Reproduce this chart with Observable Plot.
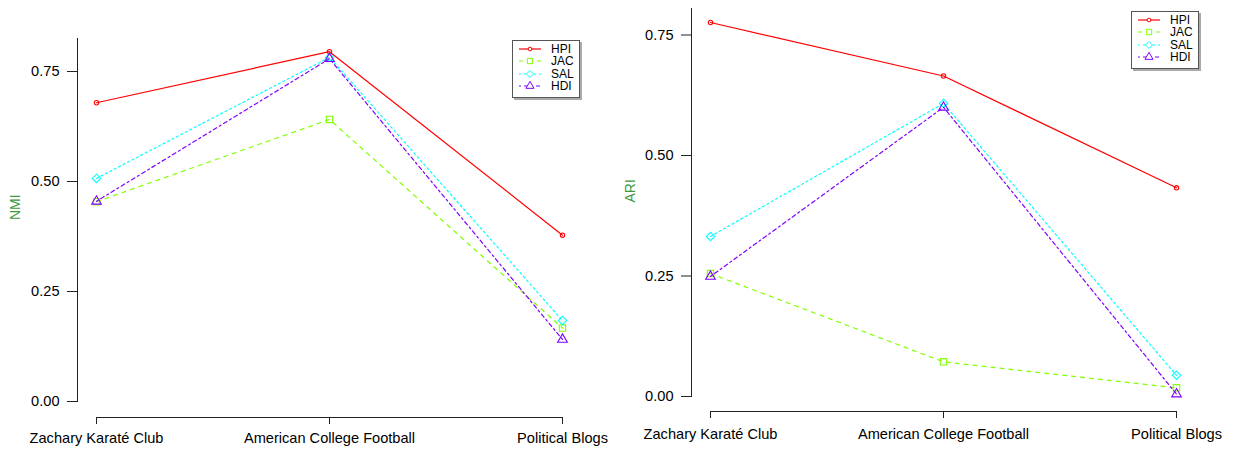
<!DOCTYPE html>
<html><head><meta charset="utf-8">
<script src="https://cdn.jsdelivr.net/npm/d3@7"></script>
<script src="https://cdn.jsdelivr.net/npm/@observablehq/plot@0.6"></script>
<style>
body{margin:0;background:#fff;font-family:"Liberation Sans",Arial,sans-serif;}
#wrap{position:relative;width:1234px;height:450px;overflow:hidden;}
.panel{position:absolute;top:0;}
.legend{position:absolute;background:#fff;border:1px solid #555;box-shadow:2px 2px 0 #aaa;font-size:12px;color:#000;padding:2px 0 0 0;box-sizing:border-box;}
.legend .row{display:flex;align-items:center;height:12.3px;}
.legend svg{margin-left:5px;margin-right:9px;}
</style></head>
<body><div id="wrap"></div>
<script>
const categories = ["Zachary Karaté Club", "American College Football", "Political Blogs"];
const methods = ["HPI", "JAC", "SAL", "HDI"];
const colors = ["#FF0000", "#80FF00", "#00FFFF", "#8000FF"];
const dashes = [null, "4,5", "2,3", "2,3,4,3"];
const symbols = ["circle", "square", "diamond2", "triangle2"];
const symbolR = [2.2, 3.6, 3.8, 4.6];

const nmiHPI = [0.679, 0.795, 0.378];
const nmiJAC = [0.454, 0.641, 0.167];
const nmiSAL = [0.507, 0.782, 0.184];
const nmiHDI = [0.455, 0.779, 0.141];

const ariHPI = [0.776, 0.665, 0.433];
const ariJAC = [0.255, 0.072, 0.018];
const ariSAL = [0.332, 0.608, 0.044];
const ariHDI = [0.249, 0.600, 0.005];

const yTicks = [0, 0.25, 0.5, 0.75];

function makePanel(series, label, cfg) {
  const marks = [];
  marks.push(Plot.frame({anchor: "left", stroke: "#222"}));
  marks.push(Plot.axisY({ticks: yTicks, tickFormat: d3.format(".2f"), tickSize: 10, tickPadding: 8, label: null, stroke: "#222", fill: "#000"}));
  marks.push(Plot.ruleY([{a: categories[0], b: categories[categories.length - 1], y: 0}], {x1: "a", x2: "b", y: "y", dy: cfg.xAxisDy, stroke: "#222"}));
  marks.push(Plot.axisX({tickSize: 7, dy: cfg.xAxisDy, tickPadding: cfg.xPad, label: null, stroke: "#222", fill: "#000"}));
  marks.push(Plot.text([label], {frameAnchor: "left", rotate: -90, dx: cfg.labelDx, fill: "#3c9a3c", fontSize: 14}));
  series.forEach((vals, i) => {
    const data = categories.map((c, j) => ({cat: c, v: vals[j]}));
    marks.push(Plot.line(data, {x: "cat", y: "v", stroke: colors[i], strokeWidth: 1.2, strokeDasharray: dashes[i]}));
    marks.push(Plot.dot(data, {x: "cat", y: "v", stroke: colors[i], fill: "none", symbol: symbols[i], r: symbolR[i], strokeWidth: 1.1}));
  });
  return Plot.plot({
    width: cfg.width, height: 450,
    marginLeft: cfg.ml, marginTop: cfg.mt, marginBottom: cfg.mb, marginRight: 0,
    style: {fontSize: "14.6px", fontFamily: "'Liberation Sans', Arial, sans-serif", background: "#fff", overflow: "visible"},
    x: {type: "point", domain: categories, range: cfg.xRange, padding: 0},
    y: {domain: cfg.yDomain},
    marks
  });
}

function makeLegend(left, top) {
  const d = document.createElement("div");
  d.className = "legend";
  d.style.left = left + "px"; d.style.top = top + "px";
  d.style.width = "68px"; d.style.height = "58px";
  methods.forEach((m, i) => {
    const row = document.createElement("div");
    row.className = "row";
    const svg = d3.create("svg").attr("width", 24).attr("height", 12);
    svg.append("line").attr("x1", 1).attr("x2", 23).attr("y1", 6).attr("y2", 6)
      .attr("stroke", colors[i]).attr("stroke-width", 1.2).attr("stroke-dasharray", dashes[i]);
    svg.append("path").attr("transform", "translate(12,6)")
      .attr("d", d3.symbol(d3[{circle: "symbolCircle", square: "symbolSquare", diamond2: "symbolDiamond2", triangle2: "symbolTriangle2"}[symbols[i]]], Math.PI * symbolR[i] * symbolR[i] * 0.7)())
      .attr("fill", "#fff").attr("stroke", colors[i]);
    row.appendChild(svg.node());
    const t = document.createElement("span");
    t.textContent = m;
    row.appendChild(t);
    d.appendChild(row);
  });
  return d;
}

const wrap = document.getElementById("wrap");
const left = makePanel([nmiHPI, nmiJAC, nmiSAL, nmiHDI], "NMI",
  {width: 617, ml: 77, mt: 38, mb: 49, xRange: [96, 562], yDomain: [0, 0.825], xAxisDy: 16, xPad: 8, labelDx: -62});
left.classList.add("panel"); left.style.left = "0px";
wrap.appendChild(left);
const right = makePanel([ariHPI, ariJAC, ariSAL, ariHDI], "ARI",
  {width: 617, ml: 74, mt: 8, mb: 54, xRange: [92, 559], yDomain: [0, 0.805], xAxisDy: 15, xPad: 10, labelDx: -61});
right.classList.add("panel"); right.style.left = "617px";
wrap.appendChild(right);
wrap.appendChild(makeLegend(512, 40));
wrap.appendChild(makeLegend(1131, 11));
</script></body></html>
